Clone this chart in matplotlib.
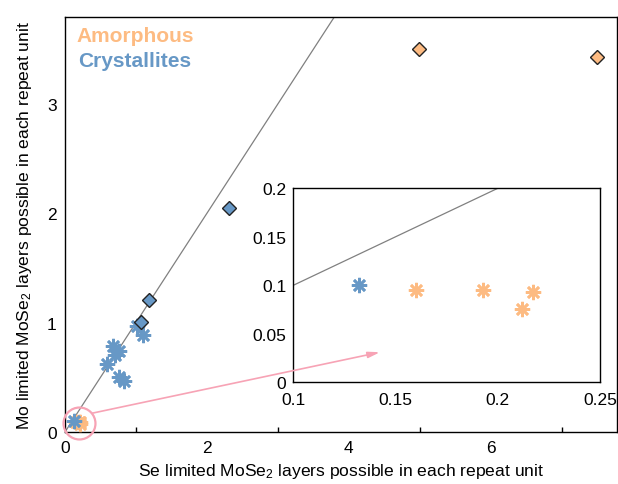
import numpy as np
import matplotlib
matplotlib.use('Agg')
import matplotlib.pyplot as plt

plt.rcParams['font.family'] = ['Liberation Sans', 'DejaVu Sans']
plt.rcParams['mathtext.default'] = 'regular'

# --- data ---------------------------------------------------------------
# Se-limited (x) vs Mo-limited (y) MoSe2 layers per repeat unit
amor_diamond_x = [4.99, 7.50]
amor_diamond_y = [3.50, 3.43]
amor_star_x = [0.160, 0.193, 0.217, 0.212]
amor_star_y = [0.095, 0.095, 0.093, 0.076]

cryst_diamond_x = [2.31, 1.18, 1.07]
cryst_diamond_y = [2.05, 1.205, 1.01]
cryst_star_x = [1.01, 1.10, 0.68, 0.765, 0.70, 0.587, 0.765, 0.83, 0.132]
cryst_star_y = [0.97, 0.886, 0.79, 0.742, 0.70, 0.62, 0.50, 0.47, 0.100]

x_minor_ticks = [1, 3, 5, 7]
x_labels = [0, 2, 4, 6]
y_labels = [0, 1, 2, 3]
inset_xticks = [0.1, 0.15, 0.2, 0.25]
inset_yticks = [0, 0.05, 0.1, 0.15, 0.2]

# zoom highlight: circle centre and arrow (main data -> inset data)
zoom_centre = (0.20, 0.082)
arrow_start = (0.376, 0.171)
arrow_end = (0.1424, 0.031)

orange = '#FDBB82'
blue = '#6798C6'
pink = '#F7A3B5'
star = (8, 2, 0)

fig = plt.figure(figsize=(6.18, 4.85), dpi=100)
ax = fig.add_axes([65 / 618, 52 / 485, 552 / 618, 415.5 / 485])

def draw_points(a, ms_star, ms_dia):
    a.plot(amor_star_x, amor_star_y, ls='none', marker=star, ms=ms_star,
           mec=orange, mew=1.9, zorder=3)
    a.plot(cryst_star_x, cryst_star_y, ls='none', marker=star, ms=ms_star,
           mec=blue, mew=1.9, zorder=4)
    a.plot(amor_diamond_x, amor_diamond_y, ls='none', marker='D', ms=ms_dia,
           mfc=orange, mec='#222222', mew=1.0, zorder=5)
    a.plot(cryst_diamond_x, cryst_diamond_y, ls='none', marker='D', ms=ms_dia,
           mfc=blue, mec='#222222', mew=1.0, zorder=5)

# y = x reference line
ref = np.array([0, 10])
ax.plot(ref, ref, color='#808080', lw=0.9, zorder=2)
draw_points(ax, 11, 7.5)

ax.plot(*zoom_centre, ls='none', marker='o', ms=23, mfc='none', mec=pink,
        mew=1.6, clip_on=False, zorder=6)

ax.set_xlim(0, 7.78)
ax.set_ylim(0, 3.8)
ax.set_xticks(x_minor_ticks)
ax.set_xticklabels([])
ax.set_xticks(x_labels, minor=True)
ax.set_xticklabels([str(v) for v in x_labels], minor=True)
ax.tick_params(axis='x', which='major', direction='in', length=3.5, width=1)
ax.tick_params(axis='x', which='minor', length=0, pad=6, labelsize=12.5)
ax.set_yticks(y_labels)
ax.tick_params(axis='y', length=0, pad=6, labelsize=12.5)
for s in ax.spines.values():
    s.set_linewidth(1.0)

ax.set_xlabel('Se limited MoSe$_2$ layers possible in each repeat unit',
              fontsize=12.6, labelpad=4)
ax.set_ylabel('Mo limited MoSe$_2$ layers possible in each repeat unit',
              fontsize=12.6, labelpad=9)

ax.text(0.02, 0.955, 'Amorphous', transform=ax.transAxes, color=orange,
        fontsize=15, fontweight='bold', va='center', ha='left')
ax.text(0.024, 0.893, 'Crystallites', transform=ax.transAxes, color=blue,
        fontsize=15, fontweight='bold', va='center', ha='left')

# inset: zoom on the low-thickness corner
axin = fig.add_axes([293.3 / 618, 101.7 / 485, 306.7 / 618, 194 / 485])
axin.plot(ref, ref, color='#808080', lw=0.9, zorder=2)
draw_points(axin, 11, 7.5)
axin.set_xlim(0.1, 0.25)
axin.set_ylim(0, 0.2)
axin.set_xticks(inset_xticks)
axin.set_xticklabels([f'{v:g}' for v in inset_xticks])
axin.set_yticks(inset_yticks)
axin.set_yticklabels([f'{v:g}' for v in inset_yticks])
axin.tick_params(axis='x', length=0, pad=7, labelsize=12.5)
axin.tick_params(axis='y', length=0, pad=5, labelsize=12.5)
for s in axin.spines.values():
    s.set_linewidth(1.0)

axin.annotate('', xy=arrow_end, xycoords='data', xytext=arrow_start,
              textcoords=ax.transData, annotation_clip=False,
              arrowprops=dict(arrowstyle='-|>,head_length=0.7,head_width=0.18',
                              color=pink, lw=1.2, shrinkA=0, shrinkB=0))

fig.savefig('out.png', dpi=100)
